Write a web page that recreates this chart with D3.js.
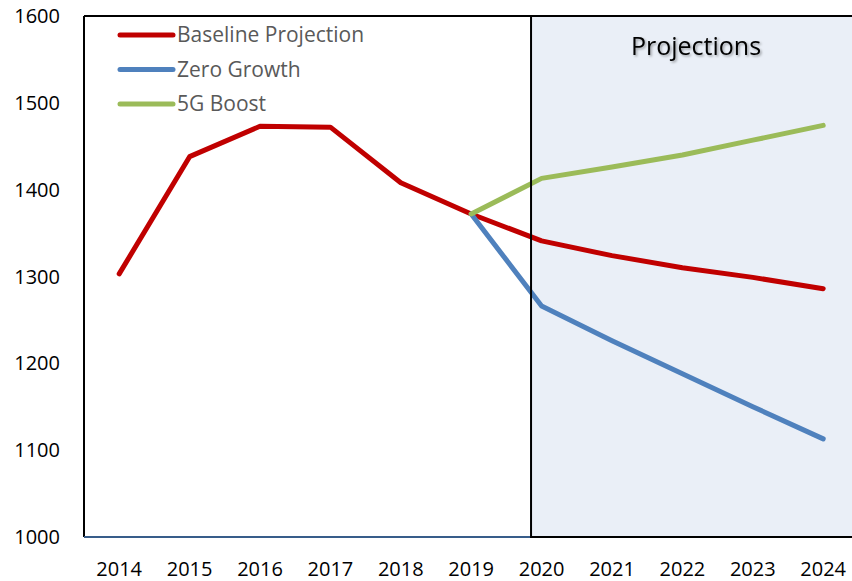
<!DOCTYPE html>
<html>
<head>
<meta charset="utf-8">
<script src="https://cdn.jsdelivr.net/npm/d3@7"></script>
<style>
 body{margin:0;background:#fff}
 svg{display:block}
</style>
</head>
<body>
<svg id="chart" width="852" height="581"></svg>
<script>
var years=[2014,2015,2016,2017,2018,2019,2020,2021,2022,2023,2024]
var yTicks=[1000,1100,1200,1300,1400,1500,1600]

var baselineYears=[2014,2015,2016,2017,2018,2019,2020,2021,2022,2023,2024]
var baselineValues=[1303,1438,1473,1472,1408,1372,1341,1324,1310,1299,1286]

var zeroYears=[2019,2020,2021,2022,2023,2024]
var zeroValues=[1372,1266,1226,1188,1150,1113]

var boostYears=[2019,2020,2021,2022,2023,2024]
var boostValues=[1372,1413,1426,1440,1457,1474]

var seriesNames=["Baseline Projection","Zero Growth","5G Boost"]
var seriesColors=["#C00000","#4F81BD","#9BBB59"]
var projectionStart=2019.85
var projectionLabel="Projections"

var svg=d3.select("#chart")
var plotLeft=84, plotTop=16, plotBottom=537, plotRight=858.4

var xScale=d3.scaleLinear().domain([2013.5,2024.5]).range([plotLeft,plotRight])
var yScale=d3.scaleLinear().domain([1000,1600]).range([plotBottom,plotTop])

//---projection shading---
svg.append("rect")
 .attr("x",xScale(projectionStart))
 .attr("y",plotTop)
 .attr("width",plotRight-xScale(projectionStart)+10)
 .attr("height",plotBottom-plotTop)
 .attr("fill","#EAEFF7")

//---frame lines---
svg.append("line")
 .attr("x1",plotLeft).attr("y1",plotTop).attr("x2",plotLeft).attr("y2",plotBottom)
 .attr("stroke","#000").attr("stroke-width",2)
svg.append("line")
 .attr("x1",plotLeft).attr("y1",plotTop).attr("x2",xScale(projectionStart)).attr("y2",plotTop)
 .attr("stroke","#000").attr("stroke-width",2)
svg.append("line")
 .attr("x1",plotLeft).attr("y1",plotBottom).attr("x2",xScale(projectionStart)).attr("y2",plotBottom)
 .attr("stroke","#385D8A").attr("stroke-width",2)

//---y axis labels---
svg.append("g").selectAll("text")
 .data(yTicks).enter().append("text")
 .attr("x",60)
 .attr("y",function(d){return yScale(d)})
 .attr("dy","0.35em")
 .attr("text-anchor","end")
 .attr("font-family","Open Sans")
 .attr("font-size","20px")
 .attr("fill","#000")
 .text(function(d){return d})

//---x axis labels---
svg.append("g").selectAll("text")
 .data(years).enter().append("text")
 .attr("x",function(d){return xScale(d)})
 .attr("y",569)
 .attr("dy","0.35em")
 .attr("text-anchor","middle")
 .attr("font-family","Open Sans")
 .attr("font-size","20px")
 .attr("fill","#000")
 .text(function(d){return d})

var line=d3.line()
 .x(function(d){return xScale(d[0])})
 .y(function(d){return yScale(d[1])})

var series=[
 d3.zip(baselineYears,baselineValues),
 d3.zip(zeroYears,zeroValues),
 d3.zip(boostYears,boostValues)
]

series.forEach(function(s,i){
 svg.append("path")
  .datum(s)
  .attr("d",line)
  .attr("fill","none")
  .attr("stroke",seriesColors[i])
  .attr("stroke-width",5)
  .attr("stroke-linecap","round")
  .attr("stroke-linejoin","round")
})

//---projection box border on top---
svg.append("rect")
 .attr("x",xScale(projectionStart))
 .attr("y",plotTop)
 .attr("width",plotRight-xScale(projectionStart)+10)
 .attr("height",plotBottom-plotTop)
 .attr("fill","none")
 .attr("stroke","#000")
 .attr("stroke-width",2)

//---projection label with soft shadow---
var defs=svg.append("defs")
var f=defs.append("filter").attr("id","shadow").attr("x","-20%").attr("y","-50%").attr("width","140%").attr("height","200%")
f.append("feDropShadow").attr("dx",1.5).attr("dy",1.5).attr("stdDeviation",1.2).attr("flood-color","#000").attr("flood-opacity",0.35)

svg.append("text")
 .attr("x",696)
 .attr("y",46)
 .attr("dy","0.35em")
 .attr("text-anchor","middle")
 .attr("font-family","Open Sans")
 .attr("font-size","25px")
 .attr("fill","#000")
 .attr("filter","url(#shadow)")
 .text(projectionLabel)

//---legend---
var legend=svg.append("g")
seriesNames.forEach(function(name,i){
 var ly=35+i*34.5
 legend.append("line")
  .attr("x1",120).attr("x2",173).attr("y1",ly).attr("y2",ly)
  .attr("stroke",seriesColors[i])
  .attr("stroke-width",5)
  .attr("stroke-linecap","round")
 legend.append("text")
  .attr("x",177).attr("y",ly)
  .attr("dy","0.35em")
  .attr("font-family","Open Sans")
  .attr("font-size","21px")
  .attr("fill","#595959")
  .text(name)
})
</script>
</body>
</html>
